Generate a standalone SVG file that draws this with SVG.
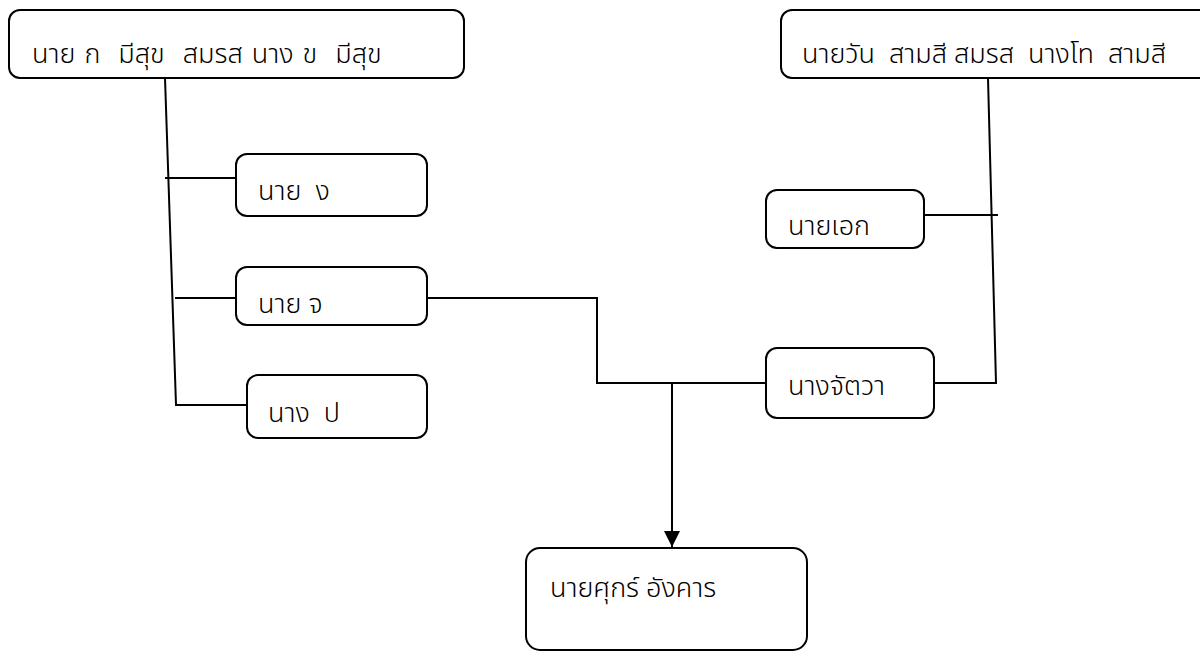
<svg xmlns="http://www.w3.org/2000/svg" width="1200" height="651" viewBox="0 0 1200 651">
<defs>
<style>
.box{fill:#fff;stroke:#000;stroke-width:2}
.t{font-family:"Noto Sans","Noto Sans Thai","DejaVu Sans",sans-serif;font-size:27px;font-weight:300;fill:#000;white-space:pre}
.c{fill:none;stroke:#000;stroke-width:2}
</style>
<marker id="arr" markerWidth="8" markerHeight="8" refX="8" refY="4" orient="auto" markerUnits="strokeWidth">
<path d="M0,0 L8,4 L0,8 Z" fill="#000"/>
</marker>
</defs>
<rect width="1200" height="651" fill="#fff"/>
<g id="connectors">
<path class="c" d="M165,78 L176,405 L247,405"/>
<path class="c" d="M165,178 L236,178"/>
<path class="c" d="M175,298 L236,298"/>
<path class="c" d="M427,298 L597,298 L597,383 L766,383"/>
<path class="c" d="M672,383 L672,547" marker-end="url(#arr)"/>
<path class="c" d="M988,78 L996,383 L934,383"/>
<path class="c" d="M924,215 L998,215"/>
</g>
<g id="n1"><rect class="box" x="9" y="10" width="455" height="68" rx="11"/><text class="t" x="32" y="63" word-spacing="2" xml:space="preserve">นาย ก  มีสุข  สมรส นาง ข  มีสุข</text></g>
<g id="n2"><rect class="box" x="781" y="10" width="440" height="68" rx="11"/><text class="t" x="802" y="63" xml:space="preserve">นายวัน  สามสี สมรส  นางโท  สามสี</text></g>
<g id="n3"><rect class="box" x="236" y="154" width="191" height="62" rx="11"/><text class="t" x="258" y="200" xml:space="preserve">นาย  ง</text></g>
<g id="n4"><rect class="box" x="236" y="267" width="191" height="58" rx="11"/><text class="t" x="258" y="313">นาย จ</text></g>
<g id="n5"><rect class="box" x="247" y="375" width="180" height="63" rx="11"/><text class="t" x="268" y="422" xml:space="preserve">นาง  ป</text></g>
<g id="n6"><rect class="box" x="766" y="190" width="158" height="58" rx="11"/><text class="t" x="788" y="235">นายเอก</text></g>
<g id="n7"><rect class="box" x="766" y="348" width="168" height="70" rx="11"/><text class="t" x="788" y="395">นางจัตวา</text></g>
<g id="n8"><rect class="box" x="526" y="548" width="281" height="102" rx="14"/><text class="t" x="550" y="597">นายศุกร์ อังคาร</text></g>
</svg>
